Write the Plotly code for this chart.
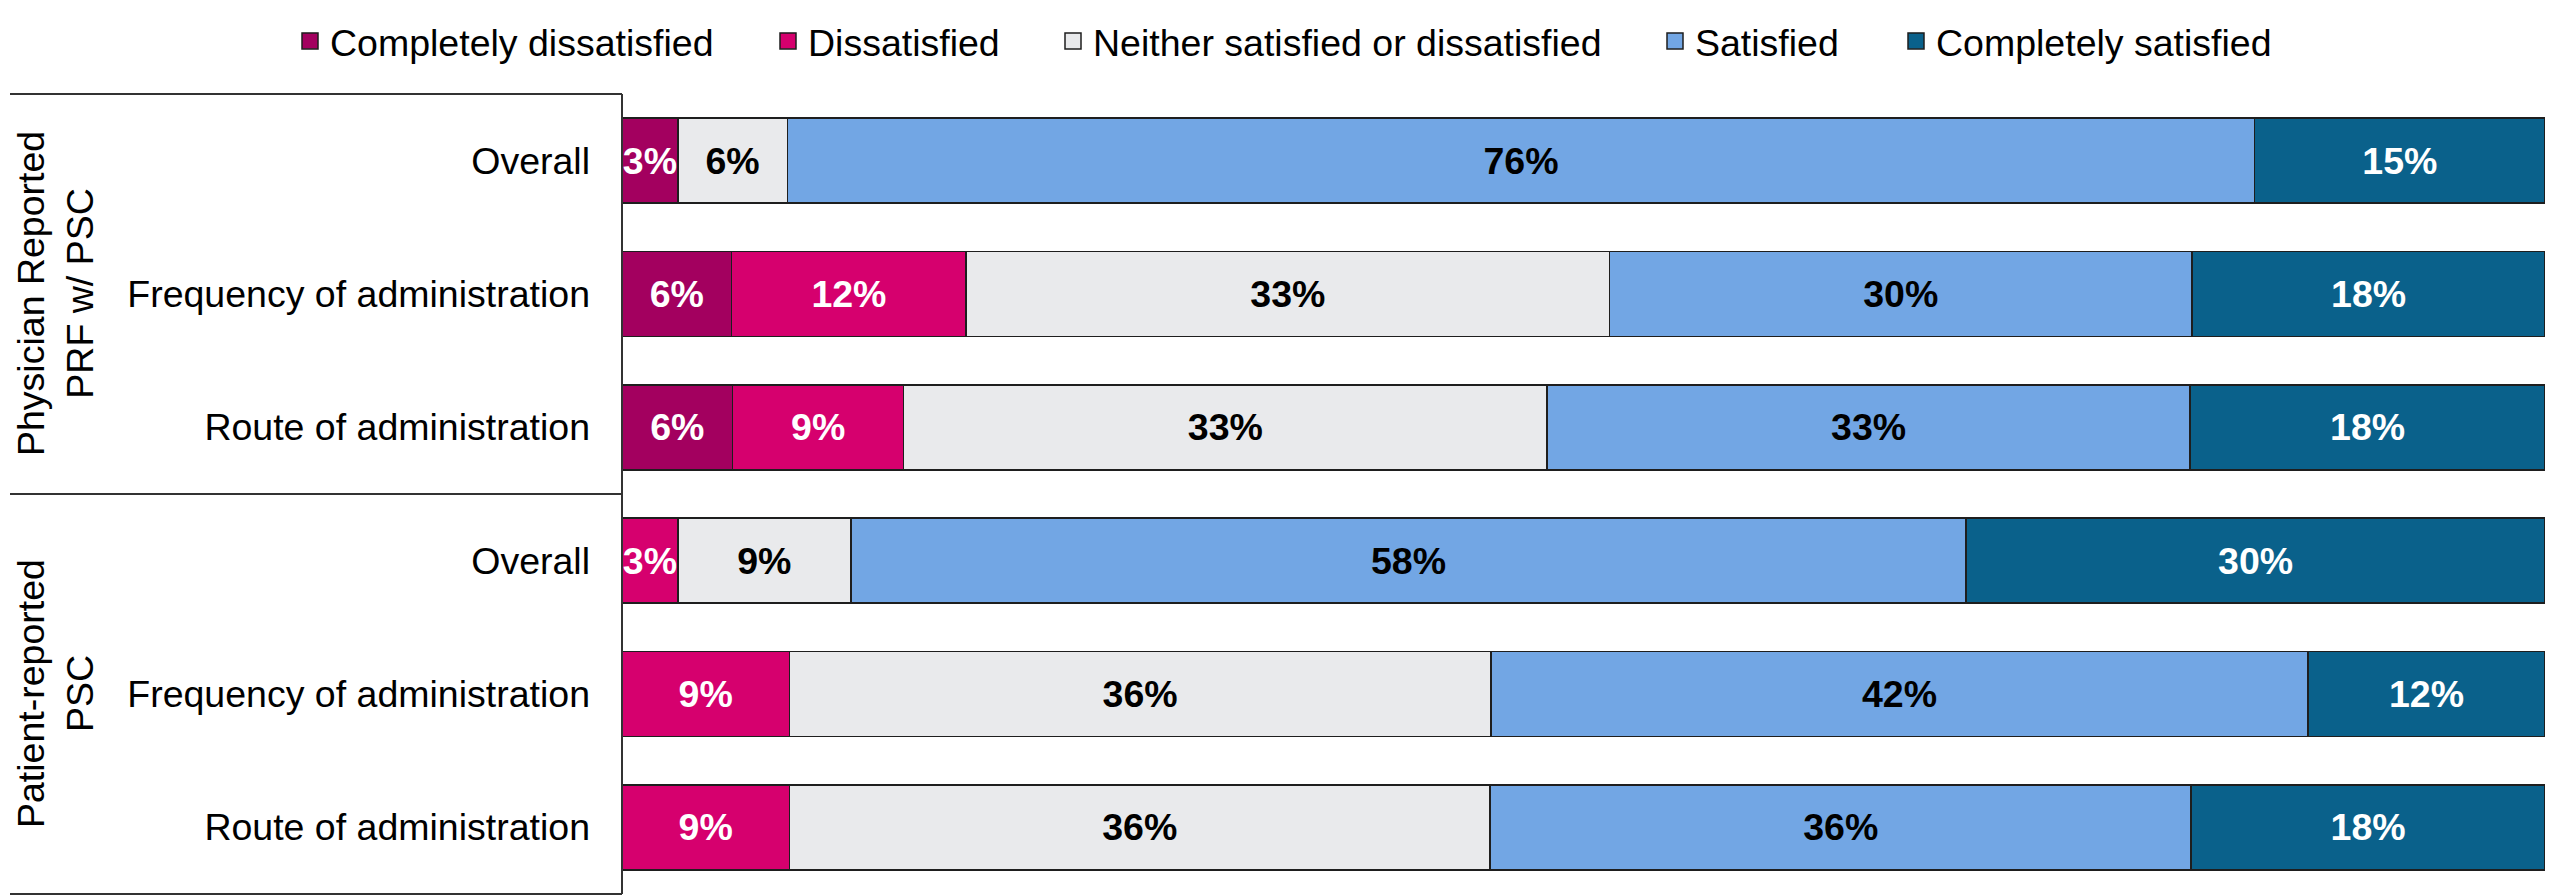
import plotly.graph_objects as go

# ---- data ----
row_labels = ["Overall", "Frequency of administration", "Route of administration",
              "Overall", "Frequency of administration", "Route of administration"]
group_labels = ["Physician Reported<br>PRF w/ PSC", "Patient-reported<br>PSC"]
series_names = ["Completely dissatisfied", "Dissatisfied",
                "Neither satisfied or dissatisfied", "Satisfied", "Completely satisfied"]

completely_dissatisfied = [2.9, 5.7, 5.75, None, None, None]
dissatisfied = [None, 12.2, 8.9, 2.9, 8.7, 8.7]
neither = [5.7, 33.45, 33.45, 9.0, 36.49, 36.45]
satisfied = [76.3, 30.3, 33.45, 58.0, 42.49, 36.45]
completely_satisfied = [15.1, 18.35, 18.45, 30.1, 12.32, 18.4]

series_values = [completely_dissatisfied, dissatisfied, neither, satisfied, completely_satisfied]
series_colors = ["#A3005F", "#D6006E", "#E9EAEC", "#72A6E4", "#0A618B"]
text_colors = ["white", "white", "black", "black", "white"]

# ---- layout geometry (pixels) ----
W, H = 2571, 896
ML, MR, MT, MB = 622, 26, 94, 2
PW = W - ML - MR
PH = H - MT - MB
FONT = "Liberation Sans, Arial, sans-serif"
FS = 37.5


def px_to_paper_x(px):
    return (px - ML) / PW


def px_to_paper_y(py):
    return 1 - (py - MT) / PH


rows = list(range(len(row_labels)))

fig = go.Figure()
legend_keys = ["legend", "legend2", "legend3", "legend4", "legend5"]
for name, vals, col, tcol, lk in zip(series_names, series_values, series_colors, text_colors, legend_keys):
    fig.add_trace(go.Bar(
        y=rows, x=vals, orientation="h", name=name, legendgroup=name, showlegend=False,
        marker=dict(color=col, line=dict(color="#1E1E1E", width=1.5)),
        texttemplate="%{x:.0f}%", textposition="inside", insidetextanchor="middle",
        textangle=0, constraintext="none",
        textfont=dict(family=FONT, size=FS, color=tcol, weight="bold"),
        hovertemplate=name + ": %{x:.1f}%<extra></extra>",
    ))
    # legend entry (square swatch)
    fig.add_trace(go.Scatter(
        x=[None], y=[None], mode="markers", name=name, legendgroup=name, legend=lk,
        marker=dict(symbol="square", size=20, color=col, line=dict(color="#1E1E1E", width=1.5)),
        showlegend=True,
    ))

legend_left_px = [290, 768, 1053, 1655, 1896]
legend_y = px_to_paper_y(41)
layout_legends = {}
for lk, lpx in zip(legend_keys, legend_left_px):
    layout_legends[lk] = dict(
        x=px_to_paper_x(lpx), xanchor="left", y=legend_y, yanchor="middle",
        orientation="h", bgcolor="rgba(0,0,0,0)", itemwidth=30,
        font=dict(family=FONT, size=FS, color="black"),
    )

line_style = dict(color="#333333", width=2)
left_px = 10
shapes = [
    dict(type="line", xref="paper", yref="paper", x0=px_to_paper_x(left_px), x1=0, y0=1, y1=1, line=line_style),
    dict(type="line", xref="paper", yref="paper", x0=px_to_paper_x(left_px), x1=0, y0=0.5, y1=0.5, line=line_style),
    dict(type="line", xref="paper", yref="paper", x0=px_to_paper_x(left_px), x1=0, y0=0, y1=0, line=line_style),
    dict(type="line", xref="paper", yref="paper", x0=0, x1=0, y0=0, y1=1, line=line_style),
]

annotations = [
    dict(text=group_labels[0], xref="paper", yref="paper", x=px_to_paper_x(55), y=0.75,
         textangle=-90, showarrow=False, xanchor="center", yanchor="middle", align="center",
         font=dict(family=FONT, size=FS, color="black")),
    dict(text=group_labels[1], xref="paper", yref="paper", x=px_to_paper_x(55), y=0.25,
         textangle=-90, showarrow=False, xanchor="center", yanchor="middle", align="center",
         font=dict(family=FONT, size=FS, color="black")),
]

fig.update_layout(
    width=W, height=H, autosize=False,
    margin=dict(l=ML, r=MR, t=MT, b=MB, pad=0),
    barmode="stack", bargap=0.363,
    plot_bgcolor="white", paper_bgcolor="white",
    font=dict(family=FONT, size=FS, color="black"),
    xaxis=dict(range=[0, 100], visible=False, fixedrange=True),
    yaxis=dict(tickmode="array", tickvals=rows, ticktext=row_labels, range=[5.5, -0.5],
               showgrid=False, zeroline=False, showline=False, ticks="",
               ticklabelstandoff=31, tickfont=dict(family=FONT, size=FS, color="black")),
    shapes=shapes, annotations=annotations,
    **layout_legends,
)

fig.write_html("out.html", config={"displayModeBar": False},
               post_script="document.body.style.margin='0';document.body.style.padding='0';document.body.style.overflow='hidden';")
